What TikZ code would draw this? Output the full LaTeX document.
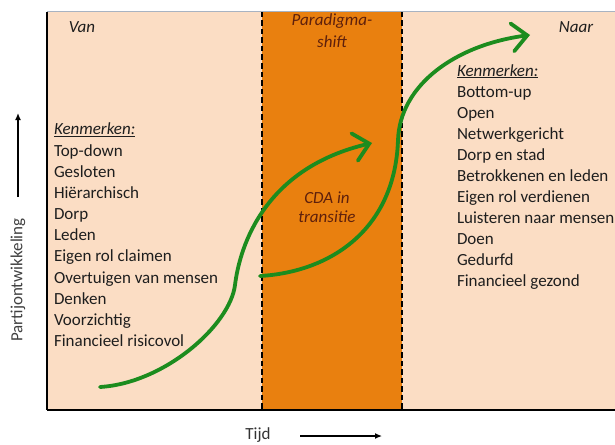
\documentclass[tikz,border=0pt]{standalone}
\usepackage{fontspec}
\setmainfont{Carlito}
\usetikzlibrary{arrows.meta}
\definecolor{peach}{HTML}{FBDDC4}
\definecolor{bandorange}{HTML}{E9800F}
\definecolor{curvegreen}{HTML}{1C8C1E}
\definecolor{txt}{HTML}{1E1E1E}
\definecolor{darkbrown}{HTML}{5E200C}
\definecolor{topline}{HTML}{A8B3C2}
\begin{document}
\begin{tikzpicture}[x=1pt,y=-1pt,
  every node/.style={inner sep=0pt,outer sep=0pt,font=\fontsize{17}{21}\selectfont,text=txt},
  item/.style={anchor=base west},
  title/.style={anchor=base,font=\fontsize{17}{21}\selectfont\itshape},
  divider/.style={draw=black,line width=1.8pt,dash pattern=on 5.5pt off 3pt},
  growth/.style={draw=curvegreen,line width=3.8pt,line cap=round,-{Straight Barb[length=15pt,width=28pt,line cap=round]}},
  axisarrow/.style={draw=black,line width=1.3pt,-{Latex[length=7pt,width=6pt]}}]
\useasboundingbox (0,0) rectangle (615,444);
% panels
\fill[peach] (47,12) rectangle (615,410);
\fill[bandorange] (262,12) rectangle (402,410);
\draw[divider] (262,12) -- (262,410);
\draw[divider] (402,12) -- (402,410);
\draw[topline,line width=1pt] (47,12) -- (615,12);
\draw[black,line width=1.5pt] (47,12) -- (47,410);
\draw[black,line width=2pt] (46.5,410) -- (615,410);
% titles
\node[title] (van) at (82,32.5) {Van};
\node[title] (para1) at (332,26) {\color{darkbrown}Paradigma-};
\node[title] (para2) at (332,48) {\color{darkbrown}shift};
\node[title] (naar) at (576,33) {Naar};
\node[title] (cda1) at (327,203) {\color{darkbrown}CDA in};
\node[title] (cda2) at (327,222) {\color{darkbrown}transitie};
% left list
\node[item] (kenL) at (54,134.5) {\underline{\itshape Kenmerken:}};
\foreach \t [count=\i] in {Top-down,Gesloten,Hiërarchisch,Dorp,Leden,Eigen rol claimen,Overtuigen van mensen,Denken,Voorzichtig,Financieel risicovol}
  \node[item] (L\i) at (54,{156+21.19*(\i-1)}) {\t};
% right list
\node[item] (kenR) at (457,76) {\underline{\itshape Kenmerken:}};
\foreach \t [count=\i] in {Bottom-up,Open,Netwerkgericht,Dorp en stad,Betrokkenen en leden,Eigen rol verdienen,Luisteren naar mensen,Doen,Gedurfd,Financieel gezond}
  \node[item] (R\i) at (457,{97.3+21.04*(\i-1)}) {\t};
% axes labels
\node[rotate=90,text=black!75] (ylab) at (18,280) {Partijontwikkeling};
\coordinate (yA) at (18,197);
\coordinate (yB) at (18,113);
\draw[axisarrow] (yA) -- (yB);
\node[anchor=base,text=black!80] (tijd) at (258,439.5) {Tijd};
\coordinate (xA) at (300,436);
\coordinate (xB) at (382,436);
\draw[axisarrow] (xA) -- (xB);
% green curves
\coordinate (c1s) at (100,387);
\coordinate (c1m) at (235,285);
\coordinate (c1e) at (372,143);
\coordinate (c2s) at (260,276);
\coordinate (c2m) at (398,140);
\coordinate (c2e) at (530,35);
\draw[growth] (c1s) .. controls (165,383) and (230,325) .. (c1m)
  .. controls (240,245) and (265,168) .. (c1e);
\draw[growth] (c2s) .. controls (330,272) and (395,230) .. (c2m)
  .. controls (400,85) and (455,45) .. (c2e);
\end{tikzpicture}
\end{document}
